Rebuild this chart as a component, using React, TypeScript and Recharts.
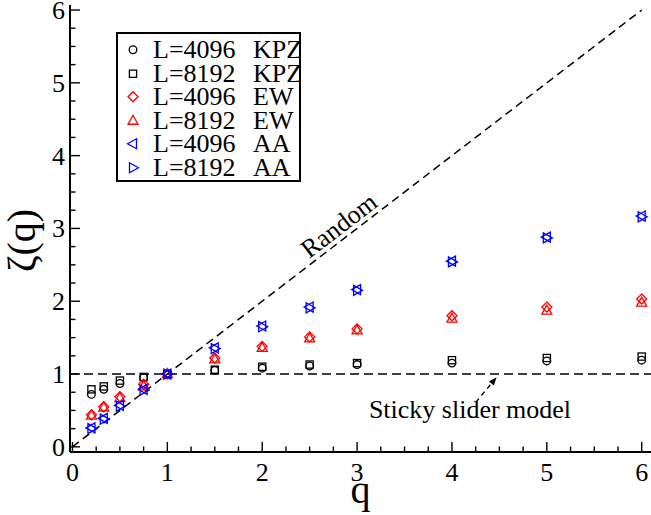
import { ScatterChart, Scatter, XAxis, YAxis, ReferenceLine, ReferenceDot, Legend } from "recharts";

const Q = [0.2, 0.33, 0.5, 0.75, 1, 1.5, 2, 2.5, 3, 4, 5, 6];
const KPZ_4096 = [0.72, 0.79, 0.87, 0.95, 1.0, 1.05, 1.08, 1.11, 1.13, 1.15, 1.18, 1.19];
const KPZ_8192 = [0.79, 0.83, 0.91, 0.96, 1.0, 1.06, 1.1, 1.13, 1.15, 1.19, 1.22, 1.24];
const EW_4096 = [0.44, 0.55, 0.69, 0.86, 1.0, 1.22, 1.38, 1.51, 1.62, 1.8, 1.92, 2.03];
const EW_8192 = [0.43, 0.54, 0.67, 0.83, 1.0, 1.2, 1.36, 1.49, 1.6, 1.76, 1.87, 1.98];
const AA_4096 = [0.26, 0.39, 0.57, 0.79, 1.0, 1.36, 1.66, 1.92, 2.16, 2.55, 2.88, 3.17];
const AA_8192 = [0.25, 0.38, 0.56, 0.78, 1.0, 1.35, 1.65, 1.91, 2.15, 2.54, 2.87, 3.16];

const X_MAJOR = [0, 1, 2, 3, 4, 5, 6];
const Y_MAJOR = [0, 1, 2, 3, 4, 5, 6];

const RANDOM_LINE = [{ x: 0, y: 0 }, { x: 6, y: 6 }];
const STICKY_LEVEL = 1;
const ARROW = [{ x: 4.25, y: 0.61 }, { x: 4.47, y: 0.955 }];

const FONT = "'Liberation Serif', 'Times New Roman', serif";

const SERIES = [
  { label: "L=4096", model: "KPZ", values: KPZ_4096, color: "#000000", kind: "circle" },
  { label: "L=8192", model: "KPZ", values: KPZ_8192, color: "#000000", kind: "square" },
  { label: "L=4096", model: "EW", values: EW_4096, color: "#ff0000", kind: "diamond" },
  { label: "L=8192", model: "EW", values: EW_8192, color: "#ff0000", kind: "up" },
  { label: "L=4096", model: "AA", values: AA_4096, color: "#0000ff", kind: "left" },
  { label: "L=8192", model: "AA", values: AA_8192, color: "#0000ff", kind: "right" },
];

// quarter-step minor ticks between majors
const withMinor = (majors: number[]) =>
  majors.flatMap((m, i) => (i === majors.length - 1 ? [m] : [m, m + 0.25, m + 0.5, m + 0.75]));

function Marker({ cx, cy, kind, color }: { cx: number; cy: number; kind: string; color: string }) {
  const p = { fill: "none", stroke: color, strokeWidth: 1.3 };
  const pts = (arr: number[][]) => arr.map(([a, b]) => `${cx + a},${cy + b}`).join(" ");
  if (kind === "circle") return <circle cx={cx} cy={cy} r={3.8} {...p} />;
  if (kind === "square") return <rect x={cx - 3.6} y={cy - 3.6} width={7.2} height={7.2} {...p} />;
  if (kind === "diamond") return <polygon points={pts([[0, -5], [5, 0], [0, 5], [-5, 0]])} {...p} />;
  if (kind === "up") return <polygon points={pts([[0, -5.5], [5, 3.5], [-5, 3.5]])} {...p} />;
  if (kind === "left") return <polygon points={pts([[-5.5, 0], [3.5, -5], [3.5, 5]])} {...p} />;
  return <polygon points={pts([[5.5, 0], [-3.5, -5], [-3.5, 5]])} {...p} />;
}

const isMajor = (v: number) => Number.isInteger(v);

function BottomTick({ x, y, payload }: any) {
  const major = isMajor(payload.value);
  return (
    <g>
      <line x1={x} y1={y} x2={x} y2={y - (major ? 10 : 5.5)} stroke="#000" strokeWidth={1.4} />
      {major && (
        <text x={x} y={y + 29} textAnchor="middle" fontSize={26} fontFamily={FONT} fill="#000">
          {payload.value}
        </text>
      )}
    </g>
  );
}

function TopTick({ x, y, payload }: any) {
  const major = isMajor(payload.value);
  return <line x1={x} y1={y} x2={x} y2={y + (major ? 10 : 5.5)} stroke="#000" strokeWidth={1.4} />;
}

function LeftTick({ x, y, payload }: any) {
  const major = isMajor(payload.value);
  return (
    <g>
      <line x1={x} y1={y} x2={x + (major ? 10 : 5.5)} y2={y} stroke="#000" strokeWidth={1.4} />
      {major && (
        <text x={x - 5} y={y + 9} textAnchor="end" fontSize={26} fontFamily={FONT} fill="#000">
          {payload.value}
        </text>
      )}
    </g>
  );
}

function RightTick({ x, y, payload }: any) {
  const major = isMajor(payload.value);
  return <line x1={x} y1={y} x2={x - (major ? 10 : 5.5)} y2={y} stroke="#000" strokeWidth={1.4} />;
}

function XTitle({ viewBox }: any) {
  return (
    <text x={viewBox.x + viewBox.width / 2} y={viewBox.y + 51} textAnchor="middle" fontSize={40} fontFamily={FONT} fill="#000">
      q
    </text>
  );
}

function YTitle({ viewBox }: any) {
  const cx = viewBox.x + 35;
  const cy = viewBox.y + viewBox.height / 2 + 12;
  return (
    <text x={cx} y={cy} transform={`rotate(-90 ${cx} ${cy})`} textAnchor="middle" fontSize={40} fontFamily={FONT} fill="#000">
      ζ(q)
    </text>
  );
}

function LegendBox() {
  return (
    <div style={{ border: "2px solid #000", background: "#fff", width: 185, height: 150, paddingTop: 4, boxSizing: "border-box", fontFamily: FONT, fontSize: 26, color: "#000" }}>
      {SERIES.map((s, i) => (
        <div key={i} style={{ position: "relative", height: 23.5 }}>
          <svg width={30} height={23.5} style={{ position: "absolute", left: 0, top: 0 }}>
            <Marker cx={15} cy={11.75} kind={s.kind} color={s.color} />
          </svg>
          <span style={{ position: "absolute", left: 35, top: 0, lineHeight: "23.5px", whiteSpace: "nowrap" }}>
            <span style={{ display: "inline-block", width: 100 }}>{s.label}</span>
            {s.model}
          </span>
        </div>
      ))}
    </div>
  );
}

export default function App() {
  return (
    <div style={{ position: "absolute", left: 0, top: 0, background: "#fff" }}>
      <ScatterChart width={651} height={515} margin={{ top: 5, right: 0, bottom: 0, left: 0 }}>
        <XAxis
          type="number"
          dataKey="x"
          domain={[-0.026, 6.098]}
          ticks={withMinor(X_MAJOR)}
          interval={0}
          tickSize={0}
          tickMargin={0}
          tickLine={false}
          tick={<BottomTick />}
          height={63}
          axisLine={{ stroke: "#000", strokeWidth: 2 }}
          allowDataOverflow
          label={<XTitle />}
        />
        <XAxis
          xAxisId="top"
          orientation="top"
          type="number"
          domain={[-0.026, 6.098]}
          ticks={withMinor(X_MAJOR)}
          interval={0}
          tickSize={0}
          tickMargin={0}
          tickLine={false}
          tick={<TopTick />}
          height={0}
          axisLine={{ stroke: "#000", strokeWidth: 2 }}
          allowDataOverflow
        />
        <YAxis
          type="number"
          dataKey="y"
          domain={[-0.071, 6.069]}
          ticks={withMinor(Y_MAJOR)}
          interval={0}
          tickSize={0}
          tickMargin={0}
          tickLine={false}
          tick={<LeftTick />}
          width={70}
          axisLine={{ stroke: "#000", strokeWidth: 2 }}
          allowDataOverflow
          label={<YTitle />}
        />
        <YAxis
          yAxisId="right"
          orientation="right"
          type="number"
          domain={[-0.071, 6.069]}
          ticks={withMinor(Y_MAJOR)}
          interval={0}
          tickSize={0}
          tickMargin={0}
          tickLine={false}
          tick={<RightTick />}
          width={0}
          axisLine={{ stroke: "#000", strokeWidth: 2 }}
          allowDataOverflow
        />
        <ReferenceLine segment={RANDOM_LINE} stroke="#000" strokeWidth={1.5} strokeDasharray="8 5" />
        <ReferenceLine y={STICKY_LEVEL} stroke="#000" strokeWidth={1.5} strokeDasharray="9 5" />
        <ReferenceLine
          segment={ARROW}
          shape={(props: any) => {
            const { x1, y1, x2, y2 } = props;
            const ang = Math.atan2(y2 - y1, x2 - x1);
            const L = 8;
            const W = 3.2;
            const bx = x2 - L * Math.cos(ang);
            const by = y2 - L * Math.sin(ang);
            const nx = -Math.sin(ang) * W;
            const ny = Math.cos(ang) * W;
            return (
              <g>
                <line x1={x1} y1={y1} x2={bx} y2={by} stroke="#000" strokeWidth={1.4} strokeDasharray="5 4" />
                <polygon points={`${x2},${y2} ${bx + nx},${by + ny} ${bx - nx},${by - ny}`} fill="#000" />
              </g>
            );
          }}
        />
        <ReferenceDot
          x={2.81}
          y={3.04}
          r={0}
          shape={(props: any) => (
            <text
              x={props.cx}
              y={props.cy}
              transform={`rotate(-37.5 ${props.cx} ${props.cy})`}
              textAnchor="middle"
              dominantBaseline="central"
              fontSize={26}
              fontFamily={FONT}
              fill="#000"
            >
              Random
            </text>
          )}
        />
        <ReferenceDot
          x={4.19}
          y={0.39}
          r={0}
          shape={(props: any) => (
            <text x={props.cx} y={props.cy} textAnchor="middle" fontSize={26} fontFamily={FONT} fill="#000">
              Sticky slider model
            </text>
          )}
        />
        {SERIES.map((s, i) => (
          <Scatter
            key={i}
            name={`${s.label} ${s.model}`}
            data={Q.map((q, j) => ({ x: q, y: s.values[j] }))}
            isAnimationActive={false}
            shape={(props: any) => <Marker cx={props.cx} cy={props.cy} kind={s.kind} color={s.color} />}
          />
        ))}
        <Legend
          layout="vertical"
          verticalAlign="middle"
          align="center"
          content={() => <LegendBox />}
          wrapperStyle={{ left: 116, top: 32, width: 185 }}
        />
      </ScatterChart>
    </div>
  );
}
